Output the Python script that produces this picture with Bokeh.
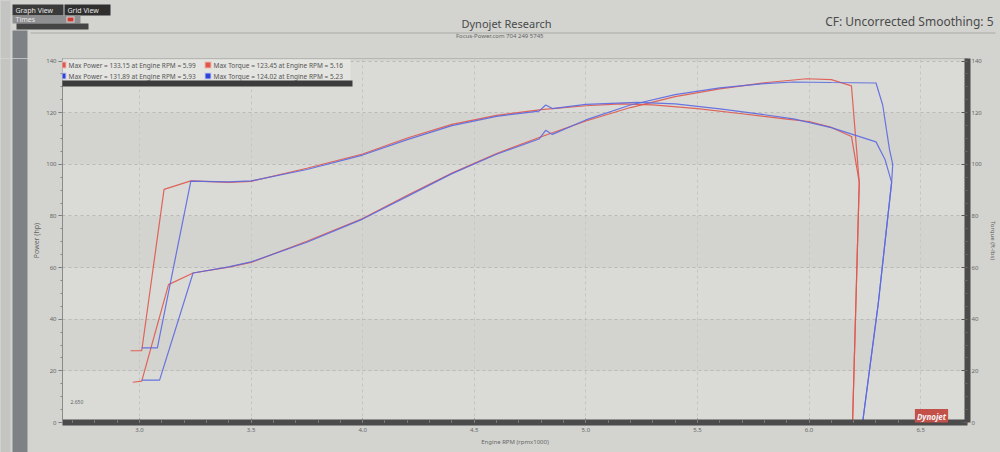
from bokeh.plotting import figure
from bokeh.models import LinearAxis, Range1d, FixedTicker, Label, BoxAnnotation
from bokeh.layouts import column, row
from bokeh.core.properties import value
from bokeh.embed import file_html
from bokeh.resources import INLINE

# ---------------- data ----------------
rpm_pwr_red = [2.97, 3.01, 3.13, 3.24, 3.40, 3.50, 3.75, 4.00, 4.20, 4.40, 4.60, 4.80, 5.00, 5.20, 5.40, 5.60, 5.80, 5.99, 6.10, 6.19, 6.225, 6.195]
pwr_red = [15.6, 16.0, 53.4, 57.9, 60.2, 62.0, 70.2, 79.0, 88.0, 96.6, 104.2, 110.7, 116.8, 122.0, 126.2, 129.2, 131.6, 133.15, 132.8, 130.4, 93.0, 0.0]

rpm_tq_red = [2.96, 3.01, 3.11, 3.23, 3.40, 3.50, 3.75, 4.00, 4.20, 4.40, 4.60, 4.80, 5.00, 5.16, 5.30, 5.50, 5.70, 5.90, 6.00, 6.10, 6.19, 6.225, 6.195]
tq_red = [27.8, 27.8, 90.3, 93.6, 93.0, 93.4, 98.5, 104.0, 110.2, 115.5, 119.0, 121.2, 122.7, 123.45, 123.0, 121.6, 119.6, 117.5, 116.6, 114.3, 110.8, 93.0, 0.0]

rpm_pwr_blue = [3.01, 3.09, 3.24, 3.40, 3.50, 3.75, 4.00, 4.20, 4.40, 4.60, 4.79, 4.82, 4.85, 5.00, 5.20, 5.40, 5.60, 5.80, 5.93, 6.10, 6.30, 6.33, 6.36, 6.375, 6.37, 6.31, 6.24]
pwr_blue = [16.4, 16.4, 57.9, 60.3, 62.2, 69.8, 78.8, 87.6, 96.4, 103.9, 109.8, 113.2, 111.6, 117.2, 123.0, 127.0, 129.6, 131.3, 131.89, 131.7, 131.5, 123.0, 106.0, 100.0, 93.0, 46.0, 0.0]

rpm_tq_blue = [3.01, 3.08, 3.23, 3.40, 3.50, 3.75, 4.00, 4.20, 4.40, 4.60, 4.79, 4.82, 4.85, 5.00, 5.23, 5.40, 5.60, 5.80, 5.93, 6.10, 6.30, 6.34, 6.37, 6.31, 6.24]
tq_blue = [28.9, 28.9, 93.5, 93.2, 93.6, 98.0, 103.6, 109.6, 115.0, 118.6, 120.6, 123.0, 121.6, 123.2, 124.02, 123.4, 121.5, 119.2, 117.6, 114.2, 108.7, 102.0, 93.0, 46.0, 0.0]

x_ticks = [3.0, 3.5, 4.0, 4.5, 5.0, 5.5, 6.0, 6.5]
x_tick_labels = ["3.0", "3.5", "4.0", "4.5", "5.0", "5.5", "6.0", "6.5"]
y_ticks = [0, 20, 40, 60, 80, 100, 120, 140]

legend_texts = [
    "Max Power = 133.15 at Engine RPM = 5.99",
    "Max Torque = 123.45 at Engine RPM = 5.16",
    "Max Power = 131.89 at Engine RPM = 5.93",
    "Max Torque = 124.02 at Engine RPM = 5.23",
]
title_text = "Dynojet Research"
subtitle_text = "Focus-Power.com  704 249 5745"
cf_text = "CF: Uncorrected Smoothing: 5"

RED = "#e0574c"
BLUE = "#5b68e0"
FONT = "Noto Sans"
BORDER = "#d3d4d0"
STRIP = "#7e8186"

W, H = 1000, 452
HEAD_H = 58          # header band height
STRIP_W = 28         # left window strip width
FL, FT, FR, FB = 62, 58, 967, 422  # chart frame edges in page pixels

# ---------------- header band (page pixel space) ----------------
hd = figure(width=W, height=HEAD_H, output_backend="svg", toolbar_location=None,
            x_range=Range1d(0, W), y_range=Range1d(HEAD_H, 0),
            x_axis_type=None, y_axis_type=None, min_border=0)
hd.grid.visible = False
hd.outline_line_color = None
hd.background_fill_color = BORDER
hd.border_fill_color = BORDER
hd.quad(left=[0, 12, 12, 64, 12, 16, 66, 67, 30],
        right=[10, 27, 63, 110, 80, 88, 74, 73, 995],
        top=[0, 30, 4, 4, 15, 23, 16, 17, 32],
        bottom=[58, 58, 15, 15, 23, 29, 22, 21, 33],
        fill_color=["#c4c5c3", STRIP, "#3a3a3a", "#2f2f2f", "#8e8f91", "#454545",
                    "#d6d6d6", "#d03a30", "#a9aaa6"],
        line_color=None)
hd.text(x=[15, 67, 15], y=[10, 10, 19], text=["Graph View", "Grid View", "Times"],
        text_font=value(FONT), text_font_size="7px", text_color="#e6e6e6",
        text_baseline="middle", text_align="left")
hd.text(x=[506], y=[23], text=[title_text], text_font=value(FONT), text_font_size="11px",
        text_color="#4a4a4a", text_align="center", text_baseline="middle")
hd.text(x=[500], y=[35], text=[subtitle_text], text_font=value(FONT), text_font_size="6px",
        text_color="#666666", text_align="center", text_baseline="middle")
hd.text(x=[993], y=[21], text=[cf_text], text_font=value(FONT), text_font_size="12px",
        text_color="#4a4a4a", text_align="right", text_baseline="middle")

# ---------------- left window strip (page pixel space) ----------------
st = figure(width=STRIP_W, height=H - HEAD_H, output_backend="svg", toolbar_location=None,
            x_range=Range1d(0, STRIP_W), y_range=Range1d(H, HEAD_H),
            x_axis_type=None, y_axis_type=None, min_border=0)
st.grid.visible = False
st.outline_line_color = None
st.background_fill_color = BORDER
st.border_fill_color = BORDER
st.quad(left=[0, 12], right=[10, 27], top=[HEAD_H, HEAD_H], bottom=[H, H],
        fill_color=["#c4c5c3", STRIP], line_color=None)

# ---------------- main chart ----------------
PW = W - STRIP_W
PH = H - HEAD_H
p = figure(width=PW, height=PH, output_backend="svg", toolbar_location=None,
           x_range=Range1d(2.655, 6.71), y_range=Range1d(0, 141),
           min_border_left=FL - STRIP_W, min_border_right=W - FR,
           min_border_top=FT - HEAD_H, min_border_bottom=H - FB)
p.extra_y_ranges = {"tq": Range1d(0, 141)}

p.background_fill_color = "#dadbd7"
p.border_fill_color = BORDER
p.outline_line_color = "#b4b5b1"

# grid
p.ygrid.ticker = FixedTicker(ticks=y_ticks)
p.ygrid.grid_line_color = "#b9bab6"
p.ygrid.grid_line_dash = "3 3"
p.ygrid.band_fill_color = "#c9cac6"
p.ygrid.band_fill_alpha = 0.45
p.xgrid.ticker = FixedTicker(ticks=x_ticks)
p.xgrid.grid_line_color = "#c4c5c1"
p.xgrid.grid_line_dash = "3 3"

# bottom axis
xa = p.xaxis[0]
xa.ticker = FixedTicker(ticks=x_ticks, minor_ticks=[round(3.0 + 0.1 * i, 2) for i in range(-3, 38)])
xa.major_label_overrides = {t: l for t, l in zip(x_ticks, x_tick_labels)}
xa.axis_line_width = 6
xa.axis_line_color = "#4b4b4b"
xa.major_tick_in = 4
xa.major_tick_out = 0
xa.minor_tick_in = 2
xa.minor_tick_out = 0
xa.major_tick_line_color = "#777"
xa.minor_tick_line_color = "#888"
xa.major_label_text_font = FONT
xa.major_label_text_font_size = "6px"
xa.major_label_text_color = "#666"
xa.major_label_standoff = 5
xa.axis_label = "Engine RPM (rpmx1000)"
xa.axis_label_text_font = FONT
xa.axis_label_text_font_size = "6px"
xa.axis_label_text_font_style = "normal"
xa.axis_label_text_color = "#666"
xa.axis_label_standoff = 3

# left axis
ya = p.yaxis[0]
ya.ticker = FixedTicker(ticks=y_ticks, minor_ticks=list(range(0, 141, 5)))
ya.axis_line_color = "#8a8a8a"
ya.major_tick_in = 0
ya.major_tick_out = 4
ya.minor_tick_in = 0
ya.minor_tick_out = 2
ya.major_tick_line_color = "#777"
ya.minor_tick_line_color = "#888"
ya.major_label_text_font = FONT
ya.major_label_text_font_size = "6px"
ya.major_label_text_color = "#666"
ya.major_label_standoff = 2
ya.axis_label = "Power (hp)"
ya.axis_label_text_font = FONT
ya.axis_label_text_font_size = "7px"
ya.axis_label_text_font_style = "normal"
ya.axis_label_text_color = "#666"
ya.axis_label_standoff = 2

# right axis
ra = LinearAxis(y_range_name="tq", axis_label="Torque (ft-lbs)")
ra.ticker = FixedTicker(ticks=y_ticks, minor_ticks=list(range(0, 141, 5)))
ra.axis_line_width = 6
ra.axis_line_color = "#4b4b4b"
ra.major_tick_in = 6
ra.major_tick_out = 0
ra.minor_tick_in = 3
ra.minor_tick_out = 0
ra.major_tick_line_color = "#555"
ra.minor_tick_line_color = "#666"
ra.major_label_text_font = FONT
ra.major_label_text_font_size = "6px"
ra.major_label_text_color = "#666"
ra.major_label_standoff = 4
ra.axis_label_text_font = FONT
ra.axis_label_text_font_size = "6px"
ra.axis_label_text_font_style = "normal"
ra.axis_label_text_color = "#666"
ra.axis_label_standoff = 4
p.add_layout(ra, "right")

# curves
p.line(rpm_pwr_red, pwr_red, line_color=RED, line_width=1.2, line_alpha=0.9)
p.line(rpm_tq_red, tq_red, line_color=RED, line_width=1.2, line_alpha=0.9, y_range_name="tq")
p.line(rpm_pwr_blue, pwr_blue, line_color=BLUE, line_width=1.2, line_alpha=0.9)
p.line(rpm_tq_blue, tq_blue, line_color=BLUE, line_width=1.2, line_alpha=0.9, y_range_name="tq")


def sx(px):
    return px - FL


def sy(py):
    return FB - py


def box(x0, y0, x1, y1, color, alpha=1.0):
    # boxes inside the plot frame (page pixel positions)
    p.add_layout(BoxAnnotation(left=sx(x0), right=sx(x1), top=sy(y0), bottom=sy(y1),
                               left_units="screen", right_units="screen",
                               top_units="screen", bottom_units="screen",
                               fill_color=color, fill_alpha=alpha, line_color=None))


def label(px, py, text, size="6.5px", color="#555", align="left", baseline="middle",
          bg=None, style="normal", pad=0):
    kw = {}
    if bg is not None:
        kw["background_fill_color"] = bg
    p.add_layout(Label(x=sx(px), y=sy(py), x_units="screen", y_units="screen", text=text,
                       text_font=FONT, text_font_size=size, text_color=color,
                       text_align=align, text_baseline=baseline, text_font_style=style,
                       padding=pad, **kw))


# legend block
box(57, 59, 350, 80, "#e4e4e0")
box(60, 80, 352, 86, "#3c3c3c")
box(59, 61, 66, 68, "#f0b8b4")
box(60, 62, 65, 67, RED)
box(204, 61, 211, 68, "#f0b8b4")
box(205, 62, 210, 67, RED)
box(59, 72, 66, 79, "#c8cbf0")
box(60, 73, 65, 78, "#2c44d8")
box(204, 72, 211, 79, "#c8cbf0")
box(205, 73, 210, 78, "#2c44d8")
label(68, 65, legend_texts[0])
label(213, 65, legend_texts[1])
label(68, 76, legend_texts[2])
label(213, 76, legend_texts[3])

# misc
label(70, 401, "2.650", size="5px", color="#666")
label(931, 416, "Dynojet", size="8px", color="#f4f4f4", bg="#c4504a", style="bold italic",
      align="center", pad=2)

inner = row(st, column(p, spacing=0), spacing=0)
inner.styles = {"background-color": BORDER}
layout = column(hd, inner, spacing=0)
layout.styles = {"background-color": BORDER}
open("out.html", "w").write(file_html(layout, INLINE))
